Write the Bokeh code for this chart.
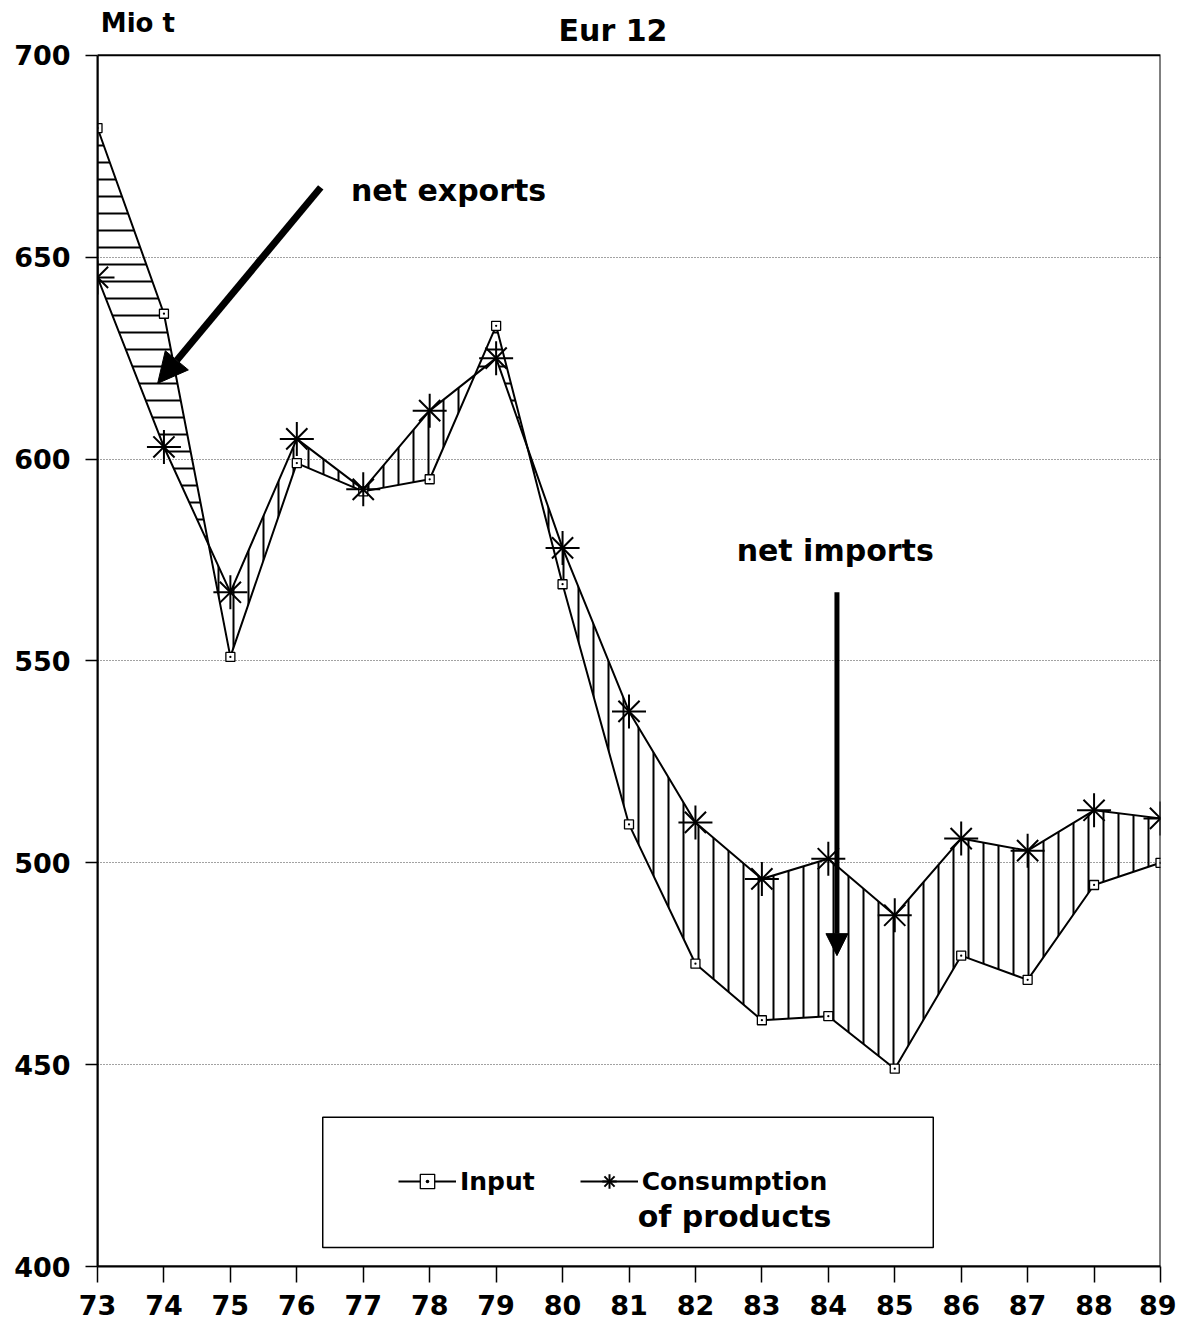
import numpy as np
from bokeh.plotting import figure
from bokeh.models import (Range1d, Arrow, NormalHead, Label, BoxAnnotation,
                          Legend, LegendItem, FixedTicker)
from bokeh.embed import file_html
from bokeh.resources import INLINE

# ---- data (Mio t) ----
years = [73, 74, 75, 76, 77, 78, 79, 80, 81, 82, 83, 84, 85, 86, 87, 88, 89]
input_vals = [682, 636, 551, 599, 592, 595, 633, 569, 509.5, 475, 461, 462, 449, 477, 471, 494.5, 500]
consumption_vals = [645, 603, 567, 605, 592.5, 612, 625, 578, 537.5, 510, 496, 501, 487, 506, 503, 513, 511]
y_ticks = [400, 450, 500, 550, 600, 650, 700]
x_ticks = years

FONT = "DejaVu Sans"
Y_MIN, Y_MAX = 400, 700


def with_crossings(x, a, b):
    """insert the crossing points of series a and b"""
    xs, as_, bs = [x[0]], [a[0]], [b[0]]
    for i in range(len(x) - 1):
        d0 = a[i] - b[i]
        d1 = a[i + 1] - b[i + 1]
        if d0 * d1 < 0:
            t = d0 / (d0 - d1)
            xc = x[i] + t * (x[i + 1] - x[i])
            yc = a[i] + t * (a[i + 1] - a[i])
            xs.append(xc); as_.append(yc); bs.append(yc)
        xs.append(x[i + 1]); as_.append(a[i + 1]); bs.append(b[i + 1])
    return np.array(xs, float), np.array(as_, float), np.array(bs, float)


# the frame extends a little above 700 so that the header texts can sit there
p = figure(width=1176, height=1324, output_backend="svg", toolbar_location=None,
           x_range=Range1d(73, 89), y_range=Range1d(Y_MIN, 712.6),
           min_border_left=97, min_border_right=16, min_border_top=4, min_border_bottom=58)
p.background_fill_color = "white"
p.border_fill_color = "white"
p.outline_line_color = None

# hatched areas between the two series
xs, ia, ca = with_crossings(years, input_vals, consumption_vals)
p.varea(x=xs, y1=ca, y2=np.maximum(ia, ca), fill_alpha=0,
        hatch_pattern="horizontal_line", hatch_scale=17, hatch_weight=2, hatch_color="black")
p.varea(x=xs, y1=ia, y2=np.maximum(ia, ca), fill_alpha=0,
        hatch_pattern="vertical_line", hatch_scale=15, hatch_weight=2, hatch_color="black")

# series
in_line = p.line(years, input_vals, line_color="black", line_width=2)
in_sq = p.scatter(years, input_vals, marker="square_dot", size=9, line_color="black",
                  fill_color="white", line_width=1.3)
co_line = p.line(years, consumption_vals, line_color="black", line_width=2)
co_cross = p.scatter(years, consumption_vals, marker="cross", size=34, line_color="black", line_width=2)
co_x = p.scatter(years, consumption_vals, marker="x", size=30, line_color="black", line_width=2)

# plot box 73..89 x 400..700
p.add_layout(BoxAnnotation(left=years[0], right=years[-1], bottom=Y_MIN, top=Y_MAX, fill_alpha=0,
                           line_color="black", line_alpha=1, line_width=2))

# axes
for ax in (p.xaxis[0], p.yaxis[0]):
    ax.axis_line_width = 2
    ax.major_tick_line_width = 1.5
    ax.minor_tick_line_color = None
    ax.major_label_text_font = FONT
    ax.major_label_text_font_style = "bold"
    ax.major_label_text_font_size = "27px"
    ax.major_label_text_color = "black"
    ax.major_tick_in = 0

p.yaxis.ticker = FixedTicker(ticks=y_ticks)
p.yaxis.bounds = (Y_MIN, Y_MAX)
p.yaxis.major_tick_out = 12
p.yaxis.major_label_standoff = 15
p.xaxis.ticker = FixedTicker(ticks=x_ticks)
p.xaxis.major_tick_out = 16
p.xaxis.major_label_standoff = 12

p.xgrid.visible = False
p.ygrid.ticker = FixedTicker(ticks=y_ticks[1:-1])
p.ygrid.grid_line_color = "#444444"
p.ygrid.grid_line_dash = "1 2"
p.ygrid.grid_line_width = 1

# titles
p.add_layout(Label(x=79.94, y=706.2, text="Eur 12", text_font=FONT, text_font_style="bold",
                   text_font_size="30px", text_baseline="middle", text_align="left", text_color="black"))
p.add_layout(Label(x=73.05, y=708.0, text="Mio t", text_font=FONT, text_font_style="bold",
                   text_font_size="26px", text_baseline="middle", text_align="left", text_color="black"))

# annotations
p.add_layout(Label(x=76.815, y=666.6, text="net exports", text_font=FONT, text_font_style="bold",
                   text_font_size="30px", text_baseline="middle", text_align="left", text_color="black"))
p.add_layout(Label(x=82.62, y=577.4, text="net imports", text_font=FONT, text_font_style="bold",
                   text_font_size="30px", text_baseline="middle", text_align="left", text_color="black"))
p.add_layout(Arrow(x_start=76.36, y_start=667.3, x_end=73.905, y_end=618.75, line_width=7,
                   end=NormalHead(size=30, fill_color="black", line_color="black")))
p.add_layout(Arrow(x_start=84.13, y_start=567, x_end=84.13, y_end=477, line_width=5,
                   end=NormalHead(size=22, fill_color="black", line_color="black")))

# legend box + legend
p.add_layout(BoxAnnotation(left=76.39, right=85.58, bottom=404.7, top=437, fill_alpha=0,
                           line_color="black", line_alpha=1, line_width=1.5))
legend = Legend(items=[LegendItem(label="Input", renderers=[in_line, in_sq]),
                       LegendItem(label="Consumption", renderers=[co_line, co_cross, co_x])],
                orientation="horizontal", location=(301, 67), glyph_width=58, glyph_height=36,
                label_text_font=FONT, label_text_font_style="bold", label_text_font_size="25px",
                label_text_color="black",
                border_line_color=None, background_fill_alpha=0, padding=0, margin=0,
                spacing=45, label_standoff=4)
p.add_layout(legend)
p.add_layout(Label(x=81.13, y=412.4, text="of products", text_font=FONT, text_font_style="bold",
                   text_font_size="30px", text_baseline="middle", text_align="left", text_color="black"))

open("out.html", "w").write(file_html(p, INLINE))
